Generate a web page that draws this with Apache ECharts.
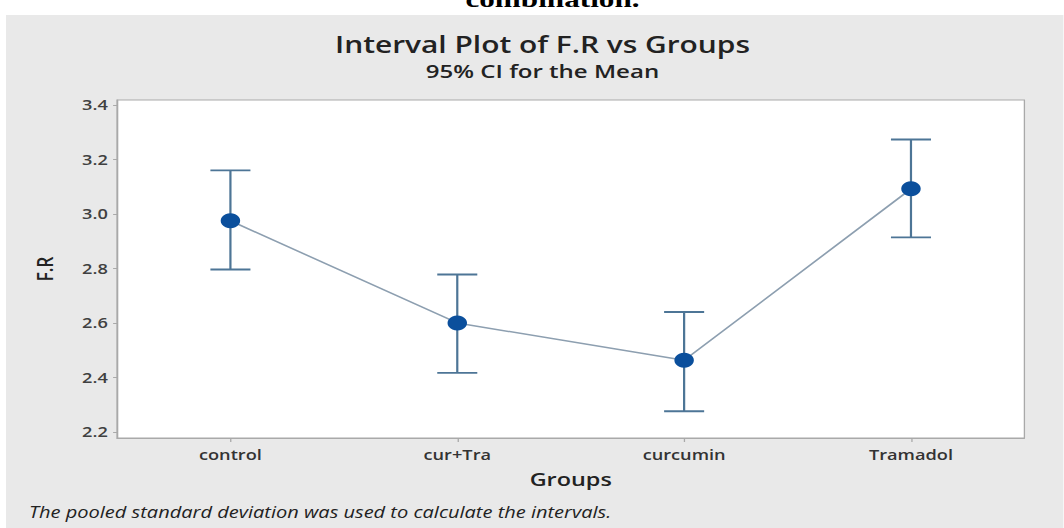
<!DOCTYPE html>
<html>
<head>
<meta charset="utf-8">
<script src="https://cdn.jsdelivr.net/npm/echarts@6/dist/echarts.min.js"></script>
<style>
  html, body { margin: 0; padding: 0; background: #ffffff; overflow: hidden; width: 1064px; height: 528px; }
  /* the reference picture is stretched horizontally; reproduce that stretch */
  #chart { width: 818.46px; height: 528px; transform: scaleX(1.3); transform-origin: 0 0; }
</style>
</head>
<body>
<div id="chart"></div>
<script>
// ---- data ----
const categories = ['control', 'cur+Tra', 'curcumin', 'Tramadol'];
const means = [2.975, 2.60, 2.463, 3.092];
const lowerCI = [2.796, 2.417, 2.276, 2.914];
const upperCI = [3.160, 2.778, 2.640, 3.273];
const yTicks = [2.2, 2.4, 2.6, 2.8, 3.0, 3.2, 3.4];

const chart = echarts.init(document.getElementById('chart'), null, { renderer: 'svg' });

const barColor = '#4d7596';
const dotColor = '#0b4f9c';
const lineColor = '#8d9fb0';

const errData = categories.map((c, i) => [i, lowerCI[i], upperCI[i]]);

const option = {
  backgroundColor: '#ffffff',
  animation: false,
  graphic: [
    { type: 'rect', z: -10, shape: { x: 4.6, y: 15, width: 820, height: 514 }, style: { fill: '#e9e9e9' } },
    { type: 'text', x: 425, y: -13, z: 5,
      style: { text: 'combination.', font: 'bold 24px "Liberation Serif"', fill: '#000', align: 'center', verticalAlign: 'top' } },
    { type: 'text', x: 417.3, y: 44, z: 5,
      style: { text: 'Interval Plot of F.R vs Groups', font: '600 23px "Open Sans"', fill: '#222', align: 'center', verticalAlign: 'middle' } },
    { type: 'text', x: 417.3, y: 71, z: 5,
      style: { text: '95% CI for the Mean', font: '600 18.5px "Open Sans"', fill: '#222', align: 'center', verticalAlign: 'middle' } },
    { type: 'text', x: 22.3, y: 512, z: 5,
      style: { text: 'The pooled standard deviation was used to calculate the intervals.', font: 'italic 15.4px "Open Sans"', fill: '#222', align: 'left', verticalAlign: 'middle' } }
  ],
  grid: {
    left: 90, right: 30, top: 100, bottom: 90,
    show: true, backgroundColor: '#ffffff', borderColor: '#a9a9a9', borderWidth: 1
  },
  xAxis: {
    type: 'category',
    data: categories,
    boundaryGap: true,
    name: 'Groups',
    nameLocation: 'middle',
    nameGap: 32,
    nameTextStyle: { fontFamily: 'Open Sans', fontWeight: 600, fontSize: 18, color: '#222' },
    axisLine: { show: true, lineStyle: { color: '#a9a9a9' } },
    axisTick: { show: true, alignWithLabel: true, length: 4, lineStyle: { color: '#a9a9a9' } },
    axisLabel: { fontFamily: 'Open Sans', fontWeight: 600, fontSize: 14, color: '#333', margin: 10 },
    splitLine: { show: false }
  },
  yAxis: {
    type: 'value',
    min: 2.178,
    max: 3.418,
    name: 'F.R',
    nameLocation: 'middle',
    nameGap: 47,
    nameRotate: 90,
    nameTextStyle: { fontFamily: 'Open Sans', fontWeight: 600, fontSize: 17, color: '#222' },
    axisLine: { show: true, lineStyle: { color: '#a9a9a9' } },
    axisTick: { show: true, length: 3, customValues: yTicks, lineStyle: { color: '#a9a9a9' } },
    axisLabel: { customValues: yTicks, fontFamily: 'Open Sans', fontWeight: 600, fontSize: 14, color: '#404040', margin: 7,
      formatter: v => v.toFixed(1) },
    splitLine: { show: false }
  },
  series: [
    {
      type: 'custom',
      z: 2,
      data: errData,
      encode: { x: 0, y: [1, 2] },
      renderItem: function (params, api) {
        const x = api.value(0);
        const pLo = api.coord([x, api.value(1)]);
        const pHi = api.coord([x, api.value(2)]);
        const hw = 15.4;
        const st = { stroke: barColor, lineWidth: 1.9 };
        return {
          type: 'group',
          children: [
            { type: 'line', shape: { x1: pHi[0], y1: pHi[1], x2: pLo[0], y2: pLo[1] }, style: { stroke: barColor, lineWidth: 1.7 } },
            { type: 'line', shape: { x1: pHi[0] - hw, y1: pHi[1], x2: pHi[0] + hw, y2: pHi[1] }, style: st },
            { type: 'line', shape: { x1: pLo[0] - hw, y1: pLo[1], x2: pLo[0] + hw, y2: pLo[1] }, style: st }
          ]
        };
      }
    },
    {
      type: 'line',
      z: 3,
      data: means,
      symbol: 'circle',
      symbolSize: 15,
      itemStyle: { color: dotColor },
      lineStyle: { color: lineColor, width: 1.5 }
    }
  ]
};

chart.setOption(option);
</script>
</body>
</html>
